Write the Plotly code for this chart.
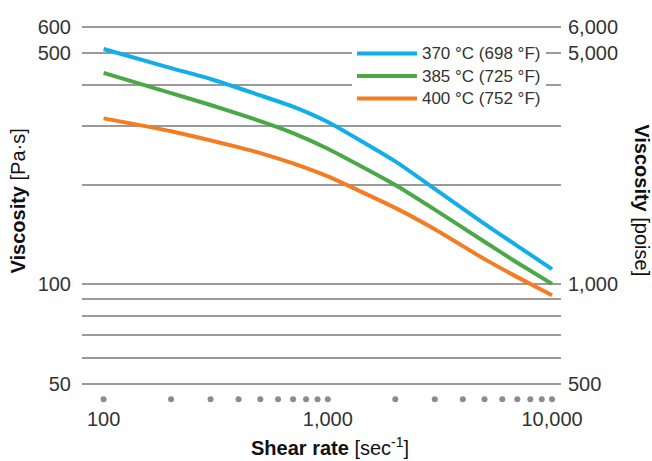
import plotly.graph_objects as go

# ---- data ----
shear_rate = [100, 200, 300, 500, 700, 1000, 2000, 3000, 5000, 7000, 10000]
visc_370 = [514, 450, 417, 372, 344, 309, 235, 194, 152, 130.5, 111]
visc_385 = [435, 378, 348, 311, 286, 256.5, 199.4, 168, 134.3, 116.1, 100.2]
visc_400 = [317, 290, 272, 249, 231.7, 211.6, 170, 146.5, 119, 105, 92.5]
series_names = ["370 °C (698 °F)", "385 °C (725 °F)", "400 °C (752 °F)"]
series_colors = ["#12AEEB", "#4BA846", "#F47C22"]

minor_x = [100, 200, 300, 400, 500, 600, 700, 800, 900,
           1000, 2000, 3000, 4000, 5000, 6000, 7000, 8000, 9000, 10000]
dot_level = 44.86

x_tickvals = [100, 1000, 10000]
x_ticktext = ["100", "1,000", "10,000"]
y_tickvals = [50, 100, 500, 600]
y_ticktext = ["50", "100", "500", "600"]
y_minor_gridvals = [60, 70, 80, 90, 200, 300, 400]
y2_tickvals = [500, 1000, 5000, 6000]
y2_ticktext = ["500", "1,000", "5,000", "6,000"]

FONT = "Liberation Sans, Arial, sans-serif"
TXT = "#333333"
GRID = "#9a9a9a"

fig = go.Figure()

fig.add_trace(go.Scatter(
    x=minor_x, y=[dot_level] * len(minor_x), mode="markers",
    marker=dict(color="#8c8c8c", size=6), showlegend=False, hoverinfo="skip"))

for name, vals, col in zip(series_names, [visc_370, visc_385, visc_400], series_colors):
    fig.add_trace(go.Scatter(
        x=shear_rate, y=vals, mode="lines",
        name='<span style="font-size:17px">' + name + "</span>",
        line=dict(color=col, width=4, shape="spline", smoothing=0.5)))

# invisible trace to activate the right axis
fig.add_trace(go.Scatter(x=[1000], y=[1000], yaxis="y2", mode="markers",
                         marker=dict(opacity=0), showlegend=False, hoverinfo="skip"))

fig.update_layout(
    width=652, height=461, autosize=False,
    margin=dict(l=82, r=91, t=20, b=56, autoexpand=False),
    plot_bgcolor="white", paper_bgcolor="white",
    font=dict(family=FONT, color=TXT, size=20),
    xaxis=dict(type="log", range=[1.9037, 4.040], tickvals=x_tickvals, ticktext=x_ticktext,
               showgrid=False, zeroline=False, showline=False, ticks="",
               tickfont=dict(size=20, color=TXT)),
    yaxis=dict(type="log", range=[1.6346, 2.7985], tickvals=y_tickvals, ticktext=y_ticktext,
               showgrid=True, gridcolor=GRID, gridwidth=1.5, zeroline=False, showline=False,
               ticks="", ticklabelstandoff=10, tickfont=dict(size=20, color=TXT),
               minor=dict(tickmode="array", tickvals=y_minor_gridvals, showgrid=True,
                          gridcolor=GRID, gridwidth=1.5, ticks="")),
    yaxis2=dict(type="log", range=[2.6346, 3.7985], overlaying="y", side="right",
                tickvals=y2_tickvals, ticktext=y2_ticktext, showgrid=False, zeroline=False,
                showline=False, ticks="", ticklabelstandoff=6,
                tickfont=dict(size=20, color=TXT)),
    legend=dict(x=0.5636, y=0.955, xanchor="left", yanchor="top", bgcolor="white",
                font=dict(size=15, color=TXT), itemwidth=60, tracegroupgap=0),
    showlegend=True,
    annotations=[
        dict(text="<b>Shear rate</b> [sec<sup>-1</sup>]", xref="paper", yref="paper",
             x=0.518, y=-0.1065, xanchor="center", yanchor="middle", showarrow=False,
             font=dict(size=20, color="#111111")),
        dict(text="<b>Viscosity</b> [Pa·s]", xref="paper", yref="paper",
             x=-0.1336, y=0.5286, xanchor="center", yanchor="middle", showarrow=False,
             textangle=-90, font=dict(size=20, color="#111111")),
        dict(text="<b>Viscosity</b> [poise]", xref="paper", yref="paper",
             x=1.1685, y=0.5325, xanchor="center", yanchor="middle", showarrow=False,
             textangle=90, font=dict(size=20, color="#111111")),
    ],
)

fig.write_html("out.html", config={"displayModeBar": False},
               post_script="document.body.style.margin='0';document.body.style.overflow='hidden';")
